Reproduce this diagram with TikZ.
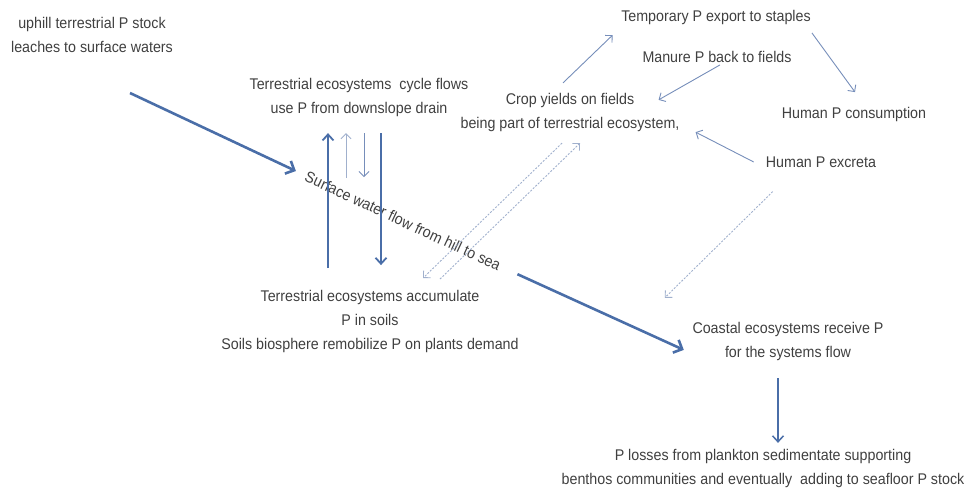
\documentclass[tikz,border=0pt]{standalone}
\usepackage{fontspec}
\setmainfont[FakeStretch=0.92]{Liberation Sans}
\usetikzlibrary{arrows.meta}
\definecolor{flowblue}{RGB}{74,110,168}
\definecolor{linkblue}{RGB}{118,142,186}
\definecolor{paleblue}{RGB}{160,176,205}
\definecolor{labelgray}{RGB}{64,64,64}

\begin{document}
\begin{tikzpicture}[x=1pt, y=-1pt,
  every node/.style={font=\fontsize{15.5}{24}\selectfont, text=labelgray, align=center, inner sep=1pt},
  flow/.style={line width=2.6pt, draw=flowblue, -{Straight Barb[length=7pt,width=14pt]}},
  trunk/.style={line width=1.8pt, draw=flowblue, -{Straight Barb[length=6pt,width=11pt]}},
  link/.style={line width=0.9pt, draw=linkblue, -{Straight Barb[length=5pt,width=10pt]}},
  faint/.style={link, draw=paleblue, dash pattern=on 2pt off 1.5pt}]
  \useasboundingbox (0,0) rectangle (972,491);

  \node (uphill) at (92,34.5) {uphill terrestrial P stock\\leaches to surface waters};
  \node (cycle) at (359,97) {Terrestrial ecosystems\ \ cycle flows\\use P from downslope drain};
  \node (crop) at (570,112) {Crop yields on fields\\being part of terrestrial ecosystem,};
  \node (temp) at (716,17.5) {Temporary P export to staples};
  \node (manure) at (717,57) {Manure P back to fields};
  \node (cons) at (854,114.5) {Human P consumption};
  \node (excreta) at (821,162) {Human P excreta};
  \node (acc) at (370,321.8) {Terrestrial ecosystems accumulate\\P in soils\\Soils biosphere remobilize P on plants demand};
  \node (coast) at (788,341.5) {Coastal ecosystems receive P\\for the systems flow};
  \node (loss) at (763,468) {P losses from plankton sedimentate supporting\\benthos communities and eventually\ \ adding to seafloor P stock};
  \node[rotate=-25] (flow) at (403,221) {Surface water flow from hill to sea};
  \coordinate (src) at (130,93);

  \draw[flow, shorten >=10pt] (src) -- (flow.west);
  \draw[flow, shorten <=18pt] (flow.east) -- ([shift={(-7.5,8.4)}]coast.west);

  \draw[trunk] ([shift={(-42,-21.3)}]acc.north) -- ([shift={(-31,15.7)}]cycle.south);
  \draw[link, draw=paleblue] ([shift={(-13,60.7)}]cycle.south) -- ([shift={(-13,15.7)}]cycle.south);
  \draw[link] ([shift={(5,15.7)}]cycle.south) -- ([shift={(5,59.7)}]cycle.south);
  \draw[trunk] ([shift={(22,15.7)}]cycle.south) -- ([shift={(11,-24.3)}]acc.north);

  \draw[link] ([shift={(-7,-8.7)}]crop.north) -- ([shift={(-7.5,9.2)}]temp.south west);
  \draw[link] ([shift={(0,7)}]temp.south east) -- ([shift={(1,-14)}]cons.north);
  \draw[link] ([shift={(3,1)}]manure.south) -- ([shift={(-22,8.3)}]crop.north east);
  \draw[link] ([shift={(-11,0)}]excreta.west) -- ([shift={(15,-0.3)}]crop.south east);

  \draw[faint] ([shift={(-8,10.7)}]crop.south) -- ([shift={(53,-11.3)}]acc.north);
  \draw[faint] ([shift={(70,-10.3)}]acc.north) -- ([shift={(10,10.7)}]crop.south);
  \draw[faint] ([shift={(8,23)}]excreta.south west) -- ([shift={(-26.5,-23.3)}]coast.north west);

  \draw[trunk, line width=1.5pt] ([shift={(-10,16.1)}]coast.south) -- ([shift={(15,-4.7)}]loss.north);
\end{tikzpicture}
\end{document}
